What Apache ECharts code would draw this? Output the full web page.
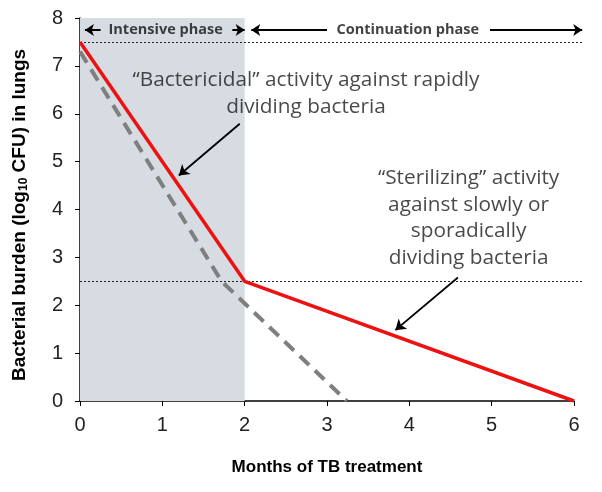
<!DOCTYPE html>
<html><head><meta charset="utf-8">
<script src="https://cdn.jsdelivr.net/npm/echarts@6/dist/echarts.min.js"></script>
<style>html,body{margin:0;padding:0;background:#fff}#c{width:602px;height:492px}</style>
</head><body><div id="c"></div>
<script>
// ---- data ----
const xTicks = [0, 1, 2, 3, 4, 5, 6];
const yTicks = [0, 1, 2, 3, 4, 5, 6, 7, 8];
const redLine = [[0, 7.5], [2, 2.5], [6, 0]];
const grayDashed = [[0, 7.3], [1.72, 2.5], [3.24, 0]];
const intensivePhase = [0, 2];
const refLevels = [7.5, 2.5];
const refLineEnd = 6.1;
const phaseArrows = [
  [[0.25, 7.75], [0.06, 7.75]],
  [[1.85, 7.75], [2.0, 7.75]],
  [[3.0, 7.75], [2.08, 7.75]],
  [[4.98, 7.75], [6.1, 7.75]]
];
const phaseLabels = [
  { name: 'Intensive phase', value: [1.04, 7.75] },
  { name: 'Continuation phase', value: [3.98, 7.75] }
];
const noteTexts = [
  { name: '\u201cBactericidal\u201d activity against rapidly\ndividing bacteria', value: [2.745, 6.42] },
  { name: '\u201cSterilizing\u201d activity\nagainst slowly or\nsporadically\ndividing bacteria', value: [4.72, 3.82] }
];
const noteArrows = [
  [[1.94, 5.79], [1.2, 4.71]],
  [[4.59, 2.58], [3.83, 1.48]]
];

const chart = echarts.init(document.getElementById('c'), null, { renderer: 'canvas' });
const axisFont = 'Liberation Sans, Arial, sans-serif';
const noteFont = 'Open Sans, sans-serif';

chart.setOption({
  animation: false,
  grid: { left: 80, right: 28, top: 18, bottom: 91 },
  xAxis: {
    type: 'value', min: 0, max: 6, interval: 1,
    name: 'Months of TB treatment', nameLocation: 'middle', nameGap: 58,
    nameTextStyle: { fontFamily: axisFont, fontWeight: 'bold', fontSize: 17, color: '#000' },
    axisLine: { show: true, lineStyle: { color: '#000', width: 1.5 } },
    axisTick: { show: true, inside: false, length: 5, lineStyle: { color: '#000' } },
    axisLabel: { fontFamily: axisFont, fontSize: 20, color: '#222', margin: 14,
      formatter: v => xTicks.includes(v) ? String(v) : '' },
    splitLine: { show: false }
  },
  yAxis: {
    type: 'value', min: 0, max: 8, interval: 1,
    name: '{a|Bacterial burden (log}{s|10}{a| CFU) in lungs}', nameLocation: 'middle', nameGap: 50,
    nameRotate: 90,
    nameTextStyle: {
      padding: [0, 11, 0, 0],
      rich: {
        a: { fontFamily: axisFont, fontWeight: 'bold', fontSize: 19, color: '#000' },
        s: { fontFamily: axisFont, fontWeight: 'bold', fontSize: 12, color: '#000', padding: [9, 0, 0, 0] }
      }
    },
    axisLine: { show: true, lineStyle: { color: '#000', width: 1.5 } },
    axisTick: { show: true, inside: false, length: 5, lineStyle: { color: '#000' } },
    axisLabel: { fontFamily: axisFont, fontSize: 20, color: '#222', margin: 17,
      formatter: v => yTicks.includes(v) ? String(v) : '' },
    splitLine: { show: false }
  },
  series: [
    {
      type: 'line', data: [], silent: true,
      markArea: {
        silent: true,
        itemStyle: { color: '#d6dce2' },
        data: [[{ coord: [intensivePhase[0], 0] }, { coord: [intensivePhase[1], 8] }]]
      }
    },
    {
      type: 'lines', coordinateSystem: 'cartesian2d', clip: false, silent: true, z: 3,
      lineStyle: { color: '#222', width: 1, type: [2, 2], opacity: 1 },
      data: refLevels.map(y => ({ coords: [[0, y], [refLineEnd, y]] }))
    },
    {
      type: 'line', data: grayDashed, showSymbol: false, symbol: 'none', z: 4,
      lineStyle: { color: '#7f7f7f', width: 4, type: [13, 8] }
    },
    {
      type: 'line', data: redLine, showSymbol: false, symbol: 'none', z: 5,
      lineStyle: { color: '#ee1111', width: 3.5 }
    },
    {
      type: 'lines', coordinateSystem: 'cartesian2d', clip: false, silent: true, z: 6,
      symbol: ['none', 'arrow'], symbolSize: [0, 9],
      lineStyle: { color: '#000', width: 2, opacity: 1 },
      data: phaseArrows.map(c => ({ coords: c }))
    },
    {
      type: 'lines', coordinateSystem: 'cartesian2d', clip: false, silent: true, z: 6,
      symbol: ['none', 'arrow'], symbolSize: [0, 10],
      lineStyle: { color: '#000', width: 1.8, opacity: 1 },
      data: noteArrows.map(c => ({ coords: c }))
    },
    {
      type: 'scatter', symbolSize: 0, z: 7, silent: true,
      data: phaseLabels,
      label: { show: true, position: 'inside', formatter: p => p.name,
        fontFamily: 'Open Sans, sans-serif', fontWeight: 'bold', fontSize: 14.5, color: '#111' }
    },
    {
      type: 'scatter', symbolSize: 0, z: 7, silent: true,
      data: noteTexts,
      label: { show: true, position: 'inside', formatter: p => p.name, align: 'center',
        fontFamily: noteFont, fontSize: 20.8, lineHeight: 26.5, color: '#1a1a1a' }
    }
  ]
});
</script></body></html>
